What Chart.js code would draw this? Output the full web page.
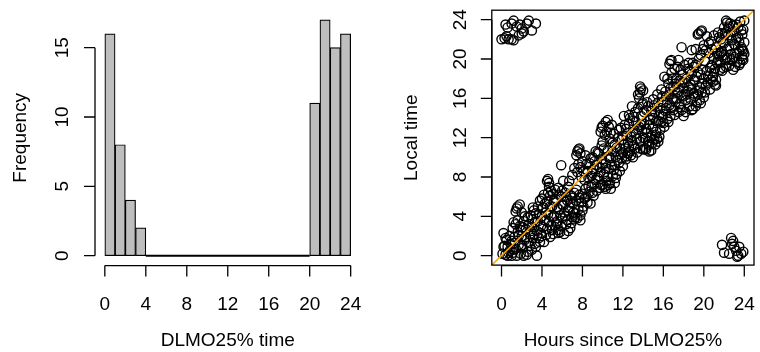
<!DOCTYPE html>
<html>
<head>
<meta charset="utf-8">
<script src="https://cdn.jsdelivr.net/npm/chart.js@4/dist/chart.umd.min.js"></script>
<style>
    body { margin: 0; background: #fff; width: 760px; height: 352px; overflow: hidden; position: relative; }
    canvas { position: absolute; top: 0; }
    #histCanvas { left: 0; }
    #scatterCanvas { left: 380px; }
</style>
</head>
<body>
<canvas id="histCanvas" width="380" height="352"></canvas>
<canvas id="scatterCanvas" width="380" height="352"></canvas>
<script>
// Histogram: DLMO25% times in 1-hour bins
const binStarts = [0, 1, 2, 3, 4, 5, 6, 7, 8, 9, 10, 11, 12, 13, 14, 15, 16, 17, 18, 19, 20, 21, 22, 23];
const binCounts = [16, 8, 4, 2, 0, 0, 0, 0, 0, 0, 0, 0, 0, 0, 0, 0, 0, 0, 0, 0, 11, 17, 15, 16];
const histXTicks = [0, 4, 8, 12, 16, 20, 24];
const histYTicks = [0, 5, 10, 15];

// Scatter: hours since DLMO25% vs local time, [x, y]
const bandPoints = [
    [0.1,0.2],[0.2,2.3],[0.3,1.0],[0.4,0.1],[0.5,1.6],[0.6,0.9],[0.7,0.3],[0.8,2.0],[0.9,1.2],[1.0,0.0],
    [1.1,2.8],[1.2,0.6],[1.3,1.9],[1.4,3.2],[1.5,4.8],[1.5,0.0],[1.6,2.4],[1.7,1.1],[1.8,5.2],[1.8,3.0],[1.9,0.2],[2.0,4.4],[2.0,2.0],
    [2.1,0.8],[2.2,3.5],[2.3,1.6],[2.4,2.7],[2.5,0.1],[2.6,3.9],[2.7,1.3],[2.8,2.2],[2.9,4.1],[3.0,0.6],[3.0,2.9],
    [3.1,1.8],[3.2,4.6],[3.3,3.4],[3.4,0.9],[3.5,0.0],[3.5,2.5],[3.6,5.0],[3.7,4.2],[3.8,1.4],[3.9,3.0],[4.0,2.0],[4.0,5.8],
    [4.1,4.9],[4.2,6.2],[4.3,3.6],[4.4,2.1],[4.5,5.5],[4.6,7.8],[4.6,4.2],[4.7,7.4],[4.8,1.9],[4.8,6.1],[4.9,3.1],[5.0,5.0],[5.0,2.6],
    [5.1,6.3],[5.2,4.0],[5.3,2.9],[5.4,5.7],[5.5,3.5],[5.6,6.9],[5.7,4.7],[5.8,2.4],[5.9,9.2],[5.9,6.0],[6.0,3.8],[6.0,5.2],
    [6.1,7.6],[6.2,4.4],[6.3,6.4],[6.4,3.2],[6.5,5.6],[6.6,7.0],[6.7,4.9],[6.8,2.8],[6.9,6.1],[7.0,3.9],[7.0,8.2],
    [7.1,5.3],[7.2,8.9],[7.3,4.3],[7.4,6.7],[7.5,10.6],[7.5,3.8],[7.6,9.3],[7.7,5.9],[7.7,10.9],[7.8,4.1],[7.9,8.0],[8.0,6.3],[8.0,9.6],
    [8.1,5.0],[8.2,7.7],[8.3,10.2],[8.4,6.0],[8.5,8.6],[8.6,7.1],[8.7,9.4],[8.8,5.3],[8.9,8.1],[9.0,6.4],[9.0,10.0],
    [9.1,8.8],[9.2,7.3],[9.3,10.6],[9.4,9.2],[9.5,7.9],[9.6,10.4],[9.7,6.9],[9.8,8.5],[9.9,13.0],[9.9,9.8],[10.0,7.2],[10.0,11.6],
    [10.1,8.3],[10.2,12.3],[10.3,9.4],[10.4,7.6],[10.5,13.8],[10.5,10.7],[10.6,8.8],[10.7,11.9],[10.8,6.8],[10.8,9.9],[10.9,13.3],[11.0,8.1],[11.0,10.6],
    [11.1,12.4],[11.2,9.2],[11.3,7.9],[11.4,11.0],[11.5,9.7],[11.6,12.8],[11.7,8.6],[11.8,10.3],[11.9,11.8],[12.0,9.1],[12.0,12.2],
    [12.1,14.2],[12.2,10.9],[12.3,12.9],[12.4,10.1],[12.5,11.5],[12.6,13.4],[12.7,10.6],[12.8,12.1],[12.9,15.2],[13.0,10.0],[13.0,13.7],
    [13.1,11.2],[13.2,14.6],[13.3,12.4],[13.4,10.5],[13.5,15.0],[13.6,13.1],[13.7,16.6],[13.7,11.6],[13.8,17.0],[13.8,14.2],[13.9,12.7],[14.0,10.8],[14.0,15.5],
    [14.1,13.4],[14.2,11.9],[14.3,14.8],[14.4,12.5],[14.5,15.2],[14.6,11.3],[14.7,13.8],[14.8,10.7],[14.8,12.2],[14.9,14.3],[15.0,13.0],[15.0,15.9],
    [15.1,11.8],[15.2,14.6],[15.3,12.6],[15.4,16.4],[15.5,13.7],[15.6,12.1],[15.7,15.0],[15.8,16.9],[15.9,14.1],[16.0,13.5],[16.0,15.6],
    [16.1,18.2],[16.2,14.7],[16.3,16.2],[16.4,13.9],[16.5,17.5],[16.6,15.3],[16.7,19.8],[16.7,14.2],[16.8,18.6],[16.9,16.0],[17.0,14.8],[17.0,17.2],
    [17.1,19.0],[17.2,15.6],[17.3,18.0],[17.4,16.6],[17.5,14.6],[17.6,17.8],[17.7,15.1],[17.8,21.2],[17.8,16.3],[17.9,18.4],[18.0,14.2],[18.0,17.0],
    [18.1,19.4],[18.2,15.8],[18.3,18.0],[18.4,16.7],[18.5,19.6],[18.6,15.2],[18.7,17.4],[18.8,20.9],[18.8,18.5],[18.9,14.9],[19.0,16.5],[19.0,19.2],
    [19.1,17.8],[19.2,21.0],[19.3,15.6],[19.4,18.7],[19.5,22.6],[19.5,16.8],[19.6,15.8],[19.7,20.4],[19.8,17.5],[19.8,22.9],[19.9,18.9],[20.0,16.1],[20.0,21.4],
    [20.1,19.8],[20.2,17.3],[20.3,22.3],[20.4,18.3],[20.5,20.6],[20.6,16.9],[20.7,21.8],[20.8,19.4],[20.9,17.7],[21.0,20.1],[21.0,18.6],
    [21.1,17.4],[21.2,21.2],[21.3,19.6],[21.4,22.7],[21.5,20.3],[21.6,18.9],[21.7,22.0],[21.8,20.8],[21.9,19.1],[22.0,21.6],[22.0,23.2],
    [22.1,19.9],[22.2,23.9],[22.3,21.0],[22.4,22.4],[22.5,19.3],[22.6,23.6],[22.7,20.5],[22.8,21.9],[22.9,18.9],[23.0,22.8],[23.0,20.2],
    [23.1,21.4],[23.2,23.5],[23.3,19.7],[23.4,22.2],[23.5,20.8],[23.6,23.8],[23.7,21.2],[23.8,20.3],[23.8,22.5],[23.9,19.9],[24.0,21.7],[24.0,23.9]
];
const bandPointsB = [
    [0.2,0.9],[0.4,1.8],[0.6,0.0],[0.8,0.5],[1.0,1.5],
    [1.1,0.3],[1.2,3.4],[1.3,1.3],[1.4,0.7],[1.6,3.6],[1.7,2.0],[1.9,2.6],[2.0,1.0],
    [2.1,2.9],[2.2,0.0],[2.3,4.0],[2.4,1.9],[2.6,0.4],[2.7,3.2],[2.8,1.0],[2.9,2.5],[3.0,3.7],
    [3.1,4.9],[3.2,2.2],[3.3,1.2],[3.4,4.3],[3.6,3.5],[3.7,1.8],[3.8,5.6],[3.9,2.3],[4.0,4.0],
    [4.1,2.9],[4.2,1.4],[4.3,5.3],[4.4,4.4],[4.5,2.7],[4.6,6.4],[4.7,3.5],[4.8,5.0],[4.9,6.6],[5.0,3.9],
    [5.1,2.2],[5.2,5.6],[5.3,6.7],[5.4,3.3],[5.5,4.9],[5.6,2.6],[5.7,6.2],[5.8,4.1],[5.9,3.0],[6.0,6.6],
    [6.1,5.1],[6.2,2.2],[6.3,4.0],[6.4,6.0],[6.5,3.6],[6.6,4.6],[6.7,7.6],[6.8,5.4],[6.9,3.3],[7.0,5.9],
    [7.1,4.4],[7.2,6.4],[7.3,3.9],[7.4,5.6],[7.5,8.5],[7.6,4.7],[7.7,6.2],[7.8,9.0],[7.9,5.4],[8.0,4.6],
    [8.1,8.6],[8.2,5.8],[8.3,6.8],[8.4,9.3],[8.5,5.4],[8.6,7.9],[8.7,6.5],[8.8,9.9],[8.9,7.0],[9.0,8.4],
    [9.1,6.1],[9.2,9.6],[9.3,7.7],[9.4,6.6],[9.5,10.5],[9.6,8.1],[9.7,9.0],[9.8,7.2],[9.9,11.2],[10.0,9.3],
    [10.1,10.9],[10.2,7.0],[10.3,8.9],[10.4,12.6],[10.5,8.0],[10.6,10.1],[10.7,7.4],[10.8,12.5],[10.9,9.2],[11.0,11.5],
    [11.1,8.7],[11.2,11.3],[11.3,10.0],[11.4,8.3],[11.5,12.0],[11.6,9.4],[11.7,10.9],[11.8,13.0],[11.9,9.9],[12.0,10.5],
    [12.1,11.3],[12.2,13.3],[12.3,9.8],[12.4,12.2],[12.5,10.4],[12.6,11.1],[12.7,14.0],[12.8,10.2],[12.9,11.7],[13.0,12.6],
    [13.1,14.1],[13.2,10.9],[13.3,13.6],[13.4,11.9],[13.5,12.9],[13.6,16.0],[13.7,10.9],[13.8,13.3],[13.9,15.4],[14.0,12.0],
    [14.1,14.6],[14.2,10.9],[14.3,12.9],[14.4,15.6],[14.5,11.6],[14.6,13.3],[14.7,12.0],[14.8,14.7],[14.9,11.4],[15.0,14.0],
    [15.1,15.3],[15.2,12.3],[15.3,13.7],[15.4,11.9],[15.5,15.6],[15.6,14.3],[15.7,12.8],[15.8,13.6],[15.9,16.2],[16.0,14.4],
    [16.1,13.1],[16.2,16.7],[16.3,15.0],[16.4,18.0],[16.5,13.6],[16.6,16.4],[16.7,17.0],[16.8,15.0],[16.9,18.0],[17.0,15.9],
    [17.1,14.3],[17.2,17.5],[17.3,16.0],[17.4,19.2],[17.5,17.1],[17.6,15.4],[17.7,18.9],[17.8,14.8],[17.9,17.6],[18.0,16.2],
    [18.1,17.6],[18.2,14.6],[18.3,16.4],[18.4,19.0],[18.5,17.2],[18.6,18.8],[18.7,15.9],[18.8,16.9],[18.9,19.6],[19.0,17.9],
    [19.1,16.2],[19.2,19.4],[19.3,18.2],[19.4,16.4],[19.5,20.0],[19.6,17.1],[19.7,18.4],[19.8,16.6],[19.9,21.0],[20.0,18.0],
    [20.1,16.6],[20.2,20.9],[20.3,18.8],[20.4,17.6],[20.5,21.6],[20.6,19.1],[20.7,17.9],[20.8,21.0],[20.9,18.2],[21.0,22.4],
    [21.1,19.0],[21.2,17.9],[21.3,20.6],[21.4,19.9],[21.5,22.2],[21.6,19.6],[21.7,20.6],[21.8,18.8],[21.9,21.7],[22.0,20.4],
    [22.1,22.6],[22.2,19.2],[22.3,20.1],[22.4,23.1],[22.5,21.3],[22.6,19.9],[22.7,22.4],[22.8,20.0],[22.9,23.4],[23.0,21.5],
    [23.1,19.2],[23.2,22.1],[23.3,20.6],[23.4,23.2],[23.5,21.7],[23.6,19.6],[23.7,22.9],[23.8,21.0],[23.9,23.0],[24.0,20.5]
];
// lobes sticking out above and below the diagonal
const lobePoints = [
    [1.4,4.5],[1.6,5.0],[4.5,7.6],[4.7,7.0],[7.4,10.2],[7.6,10.8],[7.8,10.4],[9.8,12.6],[10.0,13.2],[10.3,13.6],
    [10.6,13.1],[12.6,14.3],[13.5,16.4],[13.7,17.2],[14.0,16.8],[16.6,19.5],[16.8,19.9],[17.5,19.9],[19.4,22.5],[19.7,22.8],
    [21.8,22.6],[22.3,23.7],[22.5,23.3],
    [5.6,2.3],[6.6,2.5],[7.2,3.7],[7.8,3.6],[10.3,6.8],[10.6,7.2],[11.2,7.4],[14.3,10.8],[14.6,10.6],[15.2,11.3],
    [15.5,11.6],[18.8,14.8],[19.2,15.2],[19.7,15.5],[21.2,17.3],[23.5,19.4],[23.8,20.0],[23.9,20.8]
];
// points that wrapped past midnight
const earlyWrapPoints = [
    [0.0,22.0],[0.3,22.1],[0.5,22.3],[0.7,22.0],[1.0,22.0],[1.2,21.9],[0.6,23.2],[1.0,23.6],[1.2,23.9],[1.5,23.3],
    [1.8,23.5],[2.0,23.1],[2.2,22.8],[2.5,23.6],[2.7,23.9],[3.0,22.9],[3.4,23.6],[1.7,22.4],[2.0,22.6],[0.4,23.5]
];
const lateWrapPoints = [
    [21.8,1.1],[22.0,0.3],[22.5,0.2],[22.7,1.8],[22.9,1.5],[23.0,0.9],[23.2,0.5],[23.4,0.0],[23.5,0.9],[23.7,0.2],
    [23.9,0.4],[22.8,1.2],[23.3,-0.1]
];
const scatterTicks = [0, 4, 8, 12, 16, 20, 24];
const scatterMin = -0.96;
const scatterMax = 24.96;

const FONT = '19px "Liberation Sans", Arial, sans-serif';
const TICK_LEN = 11;

// R-style axes: detached lines spanning only the tick range, rotated y labels
function makeAxesPlugin(cfg) {
    return {
        id: 'rAxes',
        afterDraw(chart) {
            const ctx = chart.ctx;
            const xs = chart.scales.x;
            const ys = chart.scales.y;
            const area = chart.chartArea;
            ctx.save();
            ctx.strokeStyle = '#000';
            ctx.fillStyle = '#000';
            ctx.lineWidth = 1.3;
            ctx.font = FONT;

            if (cfg.box) {
                ctx.strokeRect(area.left, area.top, area.right - area.left, area.bottom - area.top);
            }

            // x axis
            const xAxisY = area.bottom + 0.5;
            ctx.beginPath();
            ctx.moveTo(xs.getPixelForValue(cfg.xTicks[0]), xAxisY);
            ctx.lineTo(xs.getPixelForValue(cfg.xTicks[cfg.xTicks.length - 1]), xAxisY);
            cfg.xTicks.forEach(t => {
                const px = xs.getPixelForValue(t);
                ctx.moveTo(px, xAxisY);
                ctx.lineTo(px, xAxisY + TICK_LEN);
            });
            ctx.stroke();
            ctx.textAlign = 'center';
            ctx.textBaseline = 'alphabetic';
            cfg.xTicks.forEach(t => ctx.fillText(String(t), xs.getPixelForValue(t), 309.5));
            ctx.fillText(cfg.xTitle, (area.left + area.right) / 2, 345.7);

            // y axis
            const yAxisX = area.left;
            ctx.beginPath();
            ctx.moveTo(yAxisX, ys.getPixelForValue(cfg.yTicks[0]));
            ctx.lineTo(yAxisX, ys.getPixelForValue(cfg.yTicks[cfg.yTicks.length - 1]));
            cfg.yTicks.forEach(t => {
                const py = ys.getPixelForValue(t);
                ctx.moveTo(yAxisX, py);
                ctx.lineTo(yAxisX - TICK_LEN, py);
            });
            ctx.stroke();
            cfg.yTicks.forEach(t => {
                ctx.save();
                ctx.translate(cfg.yLabelX, ys.getPixelForValue(t));
                ctx.rotate(-Math.PI / 2);
                ctx.fillText(String(t), 0, 0);
                ctx.restore();
            });
            ctx.save();
            ctx.translate(cfg.yTitleX, (area.top + area.bottom) / 2);
            ctx.rotate(-Math.PI / 2);
            ctx.fillText(cfg.yTitle, 0, 0);
            ctx.restore();

            // zero-count bins show as a flat line at 0
            if (cfg.zeroBins) {
                ctx.beginPath();
                ctx.lineWidth = 2;
                binCounts.forEach((c, i) => {
                    if (c === 0) {
                        ctx.moveTo(xs.getPixelForValue(binStarts[i]), ys.getPixelForValue(0));
                        ctx.lineTo(xs.getPixelForValue(binStarts[i] + 1), ys.getPixelForValue(0));
                    }
                });
                ctx.stroke();
            }
            ctx.restore();
        }
    };
}

Chart.defaults.font.family = '"Liberation Sans", Arial, sans-serif';

const histChart = new Chart(document.getElementById('histCanvas').getContext('2d'), {
    type: 'bar',
    data: {
        datasets: [{
            data: binStarts.map((s, i) => ({ x: s + 0.5, y: binCounts[i] })),
            backgroundColor: '#bebebe',
            borderColor: '#000',
            borderWidth: 1.2,
            borderSkipped: false,
            barPercentage: 1,
            categoryPercentage: 1
        }]
    },
    options: {
        responsive: false,
        animation: false,
        devicePixelRatio: 1,
        layout: { padding: { left: 95, right: 19.5, top: 10.5, bottom: 86.9 } },
        plugins: { legend: { display: false }, tooltip: { enabled: false } },
        scales: {
            x: { type: 'linear', min: -0.96, max: 24.96, offset: false, display: false },
            y: { type: 'linear', min: -0.68, max: 17.68, display: false }
        }
    },
    plugins: [makeAxesPlugin({
        xTicks: histXTicks, yTicks: histYTicks,
        xTitle: 'DLMO25% time', yTitle: 'Frequency',
        yLabelX: 67.5, yTitleX: 26.3, box: false, zeroBins: true
    })]
});

const toXY = p => ({ x: p[0], y: p[1] });
const scatterChart = new Chart(document.getElementById('scatterCanvas').getContext('2d'), {
    type: 'scatter',
    data: {
        datasets: [{
            type: 'line',
            data: [{ x: scatterMin, y: scatterMin }, { x: scatterMax, y: scatterMax }],
            borderColor: '#ffa500',
            borderWidth: 1.5,
            pointRadius: 0,
            order: 0
        }, {
            data: [...bandPoints, ...bandPointsB, ...lobePoints, ...earlyWrapPoints, ...lateWrapPoints].map(toXY),
            pointStyle: 'circle',
            pointRadius: 4.6,
            borderColor: '#000',
            borderWidth: 1.4,
            backgroundColor: 'rgba(0,0,0,0)',
            order: 1
        }]
    },
    options: {
        responsive: false,
        animation: false,
        devicePixelRatio: 1,
        layout: { padding: { left: 111.8, right: 2, top: 10.2, bottom: 86.9 } },
        plugins: { legend: { display: false }, tooltip: { enabled: false } },
        scales: {
            x: { type: 'linear', min: scatterMin, max: scatterMax, display: false },
            y: { type: 'linear', min: scatterMin, max: scatterMax, display: false }
        }
    },
    plugins: [makeAxesPlugin({
        xTicks: scatterTicks, yTicks: scatterTicks,
        xTitle: 'Hours since DLMO25%', yTitle: 'Local time',
        yLabelX: 85.5, yTitleX: 37, box: true, zeroBins: false
    })]
});
</script>
</body>
</html>
